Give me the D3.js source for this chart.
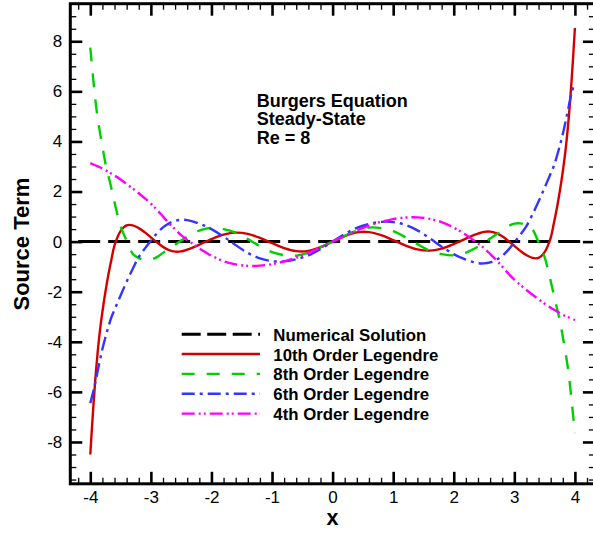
<!DOCTYPE html>
<html>
<head>
<meta charset="utf-8">
<script src="https://cdn.jsdelivr.net/npm/d3@7"></script>
<style>
  html, body { margin: 0; padding: 0; background: #fff; }
  svg { display: block; font-family: "Liberation Sans", Arial, sans-serif; }
</style>
</head>
<body>
<svg id="chart" width="593" height="533"></svg>
<script>
// Sample positions shared by the Legendre approximations
const xs = [-4,-3.95,-3.9,-3.85,-3.8,-3.75,-3.7,-3.65,-3.6,-3.5,-3.4,-3.3,-3.2,-3.1,-3,-2.9,-2.8,-2.7,-2.6,-2.5,-2.4,-2.3,-2.2,-2.1,-2,-1.8,-1.6,-1.4,-1.2,-1,-0.8,-0.6,-0.4,-0.2,0,
  0.2,0.4,0.6,0.8,1,1.2,1.4,1.6,1.8,2,2.1,2.2,2.3,2.4,2.5,2.6,2.7,2.8,2.9,3,3.1,3.2,3.3,3.4,3.5,3.6,3.65,3.7,3.75,3.8,3.85,3.9,3.95,4];

const order10 = [-8.5,-6.6,-5.0,-3.75,-2.8,-2.0,-1.3,-0.7,-0.15,0.42,0.65,0.65,0.54,0.37,0.17,-0.03,-0.21,-0.34,-0.4,-0.39,-0.32,-0.23,-0.12,-0.01,0.1,0.28,0.36,0.31,0.15,-0.06,-0.26,-0.38,-0.37,-0.22,0,
  0.22,0.37,0.38,0.26,0.06,-0.15,-0.31,-0.36,-0.28,-0.1,0.01,0.12,0.23,0.32,0.39,0.4,0.34,0.21,0.03,-0.17,-0.37,-0.54,-0.65,-0.65,-0.42,0.15,0.7,1.3,2.0,2.8,3.75,5.0,6.6,8.53];

const order8 = [7.75,6.45,5.33,4.5,3.8,3.13,2.62,2.11,1.57,0.62,0.03,-0.48,-0.66,-0.73,-0.72,-0.62,-0.45,-0.28,-0.12,0.04,0.2,0.33,0.44,0.51,0.55,0.5,0.36,0.1,-0.18,-0.42,-0.54,-0.56,-0.44,-0.23,0,
  0.23,0.44,0.56,0.54,0.42,0.18,-0.1,-0.36,-0.5,-0.55,-0.51,-0.44,-0.33,-0.2,-0.04,0.12,0.28,0.45,0.62,0.72,0.73,0.66,0.48,-0.03,-0.62,-1.57,-2.11,-2.62,-3.13,-3.8,-4.5,-5.33,-6.45,-7.65];

const order6 = [-6.45,-5.98,-5.43,-4.84,-4.29,-3.82,-3.39,-3.01,-2.72,-2.15,-1.6,-1.09,-0.62,-0.28,0.03,0.33,0.57,0.73,0.83,0.87,0.86,0.8,0.72,0.62,0.5,0.2,-0.14,-0.45,-0.67,-0.78,-0.79,-0.7,-0.55,-0.3,0,
  0.3,0.55,0.7,0.79,0.78,0.67,0.45,0.14,-0.2,-0.5,-0.62,-0.72,-0.8,-0.86,-0.87,-0.83,-0.73,-0.57,-0.33,-0.03,0.28,0.62,1.09,1.6,2.15,2.72,3.01,3.39,3.82,4.29,4.84,5.43,5.98,6.35];

const order4 = [3.13,3.08,3.03,2.98,2.92,2.85,2.78,2.71,2.64,2.48,2.3,2.12,1.93,1.73,1.52,1.27,1.0,0.73,0.49,0.26,0.07,-0.1,-0.27,-0.42,-0.56,-0.78,-0.91,-0.97,-0.96,-0.9,-0.79,-0.64,-0.45,-0.23,0,
  0.23,0.45,0.64,0.79,0.9,0.96,0.97,0.91,0.78,0.56,0.42,0.27,0.1,-0.07,-0.26,-0.49,-0.73,-1.0,-1.27,-1.52,-1.73,-1.93,-2.12,-2.3,-2.48,-2.64,-2.71,-2.78,-2.85,-2.92,-2.98,-3.03,-3.08,-3.13];

// Numerical steady-state source term
const numericalX = [-4.2, 4.2];
const numericalY = [0, 0];

const seriesNames = ["Numerical Solution", "10th Order Legendre", "8th Order Legendre", "6th Order Legendre", "4th Order Legendre"];

const xMajorTicks = [-4,-3,-2,-1,0,1,2,3,4];
const yMajorTicks = [-8,-6,-4,-2,0,2,4,6,8];
const annotationLines = ["Burgers Equation", "Steady-State", "Re = 8"];

const svg = d3.select("#chart");

const plotLeft = 70.3, plotRight = 594.9, plotTop = 3.7, plotBottom = 483.8;
const x = d3.scaleLinear().domain([-4.33, 4.33]).range([plotLeft, plotRight]);
const y = d3.scaleLinear().domain([-9.67, 9.5]).range([plotBottom, plotTop]);

const xMinorTicks = d3.range(-21, 22).map(i => i * 0.2).filter(v => Math.abs(v) <= 4.33 && Math.abs(Math.round(v) - v) > 1e-6);
const yMinorTicks = d3.range(-19, 20).map(i => i * 0.5).filter(v => v >= -9.67 && v <= 9.5 && !yMajorTicks.some(t => Math.abs(t - v) < 1e-6));

const styles = [
  { color: "#000000", width: 3,   dash: "22,8",          legendDash: "19,6.5" },
  { color: "#d40000", width: 2.4, dash: null,            legendDash: null },
  { color: "#00d000", width: 2.4, dash: "14,12",         legendDash: "13,12" },
  { color: "#3434ff", width: 2.4, dash: "14,5,3,5",      legendDash: "13,5,3,5" },
  { color: "#ff00ff", width: 2.4, dash: "13,4,2,3,2,4",  legendDash: "13,4,2,3,2,4" }
];

const line = d3.line()
  .x(d => x(d[0]))
  .y(d => y(d[1]))
  .curve(d3.curveCatmullRom.alpha(0.5));

const curves = [
  d3.zip(numericalX, numericalY),
  d3.zip(xs, order10),
  d3.zip(xs, order8),
  d3.zip(xs, order6),
  d3.zip(xs, order4)
];

svg.append("clipPath").attr("id", "plotClip")
  .append("rect").attr("x", plotLeft).attr("y", plotTop).attr("width", plotRight - plotLeft).attr("height", plotBottom - plotTop);

const plot = svg.append("g").attr("clip-path", "url(#plotClip)");
curves.forEach((pts, i) => {
  const s = styles[i];
  plot.append("path")
    .datum(pts)
    .attr("d", line)
    .attr("fill", "none")
    .attr("stroke", s.color)
    .attr("stroke-width", s.width)
    .attr("stroke-dasharray", s.dash)
    .attr("stroke-linejoin", "round");
});

// Axes with inward ticks on all four sides
function styleAxis(g, w) {
  g.select(".domain").remove();
  g.selectAll(".tick line").attr("stroke", "#000").attr("stroke-width", w);
}

svg.append("g").attr("transform", `translate(${plotLeft},0)`)
  .call(d3.axisLeft(y).tickValues(yMinorTicks).tickSizeInner(-6).tickSizeOuter(0).tickFormat(""))
  .call(g => styleAxis(g, 1.3));
svg.append("g").attr("transform", `translate(${plotRight},0)`)
  .call(d3.axisRight(y).tickValues(yMinorTicks).tickSizeInner(-6).tickSizeOuter(0).tickFormat(""))
  .call(g => styleAxis(g, 1.3));
svg.append("g").attr("transform", `translate(0,${plotBottom})`)
  .call(d3.axisBottom(x).tickValues(xMinorTicks).tickSizeInner(-6).tickSizeOuter(0).tickFormat(""))
  .call(g => styleAxis(g, 1.3));
svg.append("g").attr("transform", `translate(0,${plotTop})`)
  .call(d3.axisTop(x).tickValues(xMinorTicks).tickSizeInner(-6).tickSizeOuter(0).tickFormat(""))
  .call(g => styleAxis(g, 1.3));

const fmt = d => String(d);
const yAxis = svg.append("g").attr("transform", `translate(${plotLeft},0)`)
  .call(d3.axisLeft(y).tickValues(yMajorTicks).tickSizeInner(-12).tickSizeOuter(0).tickPadding(8).tickFormat(fmt))
  .call(g => styleAxis(g, 2.6));
yAxis.selectAll("text").attr("font-size", 17).attr("fill", "#000").attr("font-family", "Liberation Sans, Arial, sans-serif");

svg.append("g").attr("transform", `translate(${plotRight},0)`)
  .call(d3.axisRight(y).tickValues(yMajorTicks).tickSizeInner(-12).tickSizeOuter(0).tickFormat(""))
  .call(g => styleAxis(g, 2.6));

const xAxis = svg.append("g").attr("transform", `translate(0,${plotBottom})`)
  .call(d3.axisBottom(x).tickValues(xMajorTicks).tickSizeInner(-12).tickSizeOuter(0).tickPadding(7).tickFormat(fmt))
  .call(g => styleAxis(g, 2.6));
xAxis.selectAll("text").attr("font-size", 17).attr("fill", "#000").attr("font-family", "Liberation Sans, Arial, sans-serif");

svg.append("g").attr("transform", `translate(0,${plotTop})`)
  .call(d3.axisTop(x).tickValues(xMajorTicks).tickSizeInner(-12).tickSizeOuter(0).tickFormat(""))
  .call(g => styleAxis(g, 2.6));

// Frame
svg.append("rect")
  .attr("x", plotLeft).attr("y", plotTop)
  .attr("width", plotRight - plotLeft).attr("height", plotBottom - plotTop)
  .attr("fill", "none").attr("stroke", "#000").attr("stroke-width", 3);

// Axis titles
svg.append("text")
  .attr("x", x(0)).attr("y", 524.5)
  .attr("text-anchor", "middle")
  .attr("font-size", 21.5).attr("font-weight", "bold")
  .text("x");

svg.append("text")
  .attr("transform", `translate(28.5,${y(-0.1)}) rotate(-90)`)
  .attr("text-anchor", "middle")
  .attr("font-size", 22).attr("font-weight", "bold")
  .text("Source Term");

// Case description
svg.append("g").selectAll("text")
  .data(annotationLines)
  .join("text")
  .attr("x", 256.7)
  .attr("y", (d, i) => 106.7 + i * 18.4)
  .attr("font-size", 18).attr("font-weight", "bold")
  .text(d => d);

// Legend
const legend = svg.append("g");
seriesNames.forEach((name, i) => {
  const s = styles[i];
  const base = 340.7 + i * 19.85;
  legend.append("line")
    .attr("x1", 181.7).attr("x2", 260)
    .attr("y1", base - 6.5).attr("y2", base - 6.5)
    .attr("stroke", s.color)
    .attr("stroke-width", s.width)
    .attr("stroke-dasharray", s.legendDash);
  legend.append("text")
    .attr("x", 273.3).attr("y", base)
    .attr("font-size", 16.8).attr("font-weight", "bold")
    .text(name);
});
</script>
</body>
</html>
